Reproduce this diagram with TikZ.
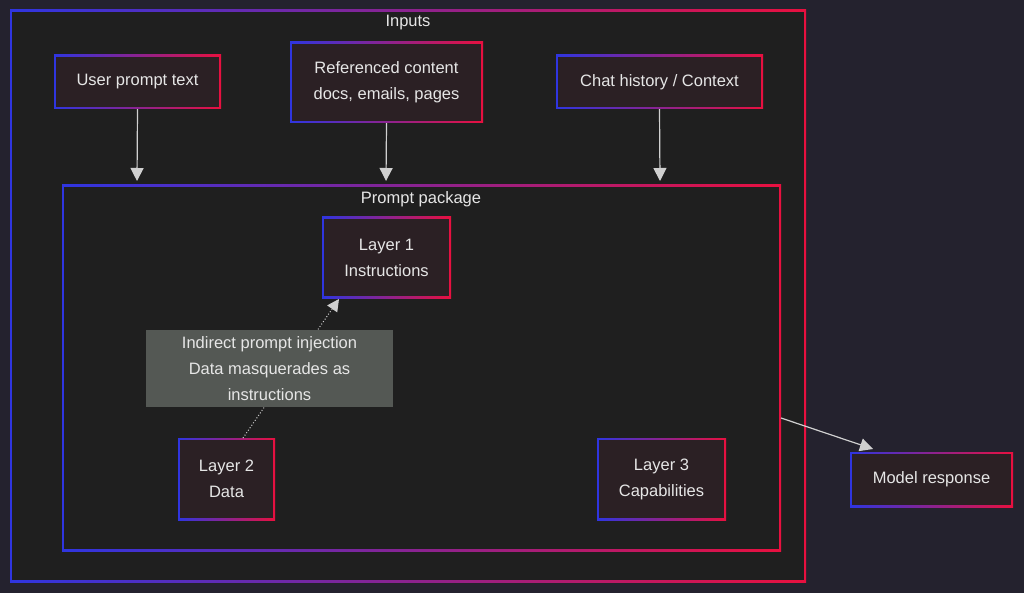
\documentclass[tikz,border=0pt]{standalone}
\usepackage{fontspec}
\setmainfont{Liberation Sans}
\usetikzlibrary{arrows.meta}
\definecolor{bg}{HTML}{24222E}
\definecolor{bx}{HTML}{2B2024}
\definecolor{pk}{HTML}{1F1F1F}
\definecolor{bl}{HTML}{2F35E0}
\definecolor{rd}{HTML}{E8103F}
\definecolor{tx}{HTML}{E6E6E6}
\definecolor{ln}{HTML}{D0D0D0}
\definecolor{gr}{HTML}{545854}
\begin{document}
\begin{tikzpicture}[x=1pt,y=-1pt,font=\fontsize{16.5}{26}\selectfont,
 gbox/.style={draw=none,text=tx,align=center,inner sep=0pt,
  path picture={\shade[left color=bl,right color=rd] (path picture bounding box.south west) rectangle (path picture bounding box.north east);
  \fill[#1] ([shift={(2pt,2pt)}]path picture bounding box.south west) rectangle ([shift={(-2pt,-2pt)}]path picture bounding box.north east);}},
 gbox/.default=bx,
 arr/.style={ln,line width=1.2pt,-{Triangle[length=13pt,width=13pt]}}]
\fill[bg] (0,0) rectangle (1024,593);
\useasboundingbox (0,0) rectangle (1024,593);
\node[gbox=pk,minimum width=796pt,minimum height=572pt] (inp) at (408,296) {};
\node[text=tx] (inl) at (408,23) {Inputs};
\node[gbox=pk,minimum width=719pt,minimum height=366pt] (pp) at (421.5,368) {};
\node[text=tx] (ppl) at (421,199) {Prompt package};
\node[gbox,minimum width=167pt,minimum height=54pt] (u) at (137.5,82) {User prompt text};
\node[gbox,minimum width=193pt,minimum height=81pt] (r) at (386.5,82.5) {Referenced content\\docs, emails, pages};
\node[gbox,minimum width=207pt,minimum height=54pt] (c) at (659.5,82) {Chat history / Context};
\coordinate (ua) at (137,181); \coordinate (ra) at (386,181); \coordinate (ca) at (660,181);
\draw[arr] (u.south) -- (ua);
\draw[arr] (r.south) -- (ra);
\draw[arr] (c.south) -- (ca);
\node[gbox,minimum width=129pt,minimum height=81pt] (l1) at (386.5,257.5) {Layer 1\\Instructions};
\node[gbox,minimum width=97pt,minimum height=82pt] (l2) at (226.5,479) {Layer 2\\Data};
\node[gbox,minimum width=129pt,minimum height=82pt] (l3) at (661.5,479) {Layer 3\\Capabilities};
\coordinate (l2t) at (243,438); \coordinate (l1b) at (339,299);
\draw[ln,line width=1pt,dotted,-{Triangle[length=12pt,width=12pt]}] (l2t) -- (l1b);
\node[fill=gr,text=tx,align=center,minimum width=247pt,minimum height=77pt,inner sep=0pt] (lab) at (269.5,368.5) {Indirect prompt injection\\Data masquerades as\\instructions};
\node[gbox,minimum width=163pt,minimum height=55pt] (m) at (931.5,479.5) {Model response};
\coordinate (ppr) at (781,418); \coordinate (ma) at (873,449);
\draw[arr] (ppr) -- (ma);
\end{tikzpicture}
\end{document}
